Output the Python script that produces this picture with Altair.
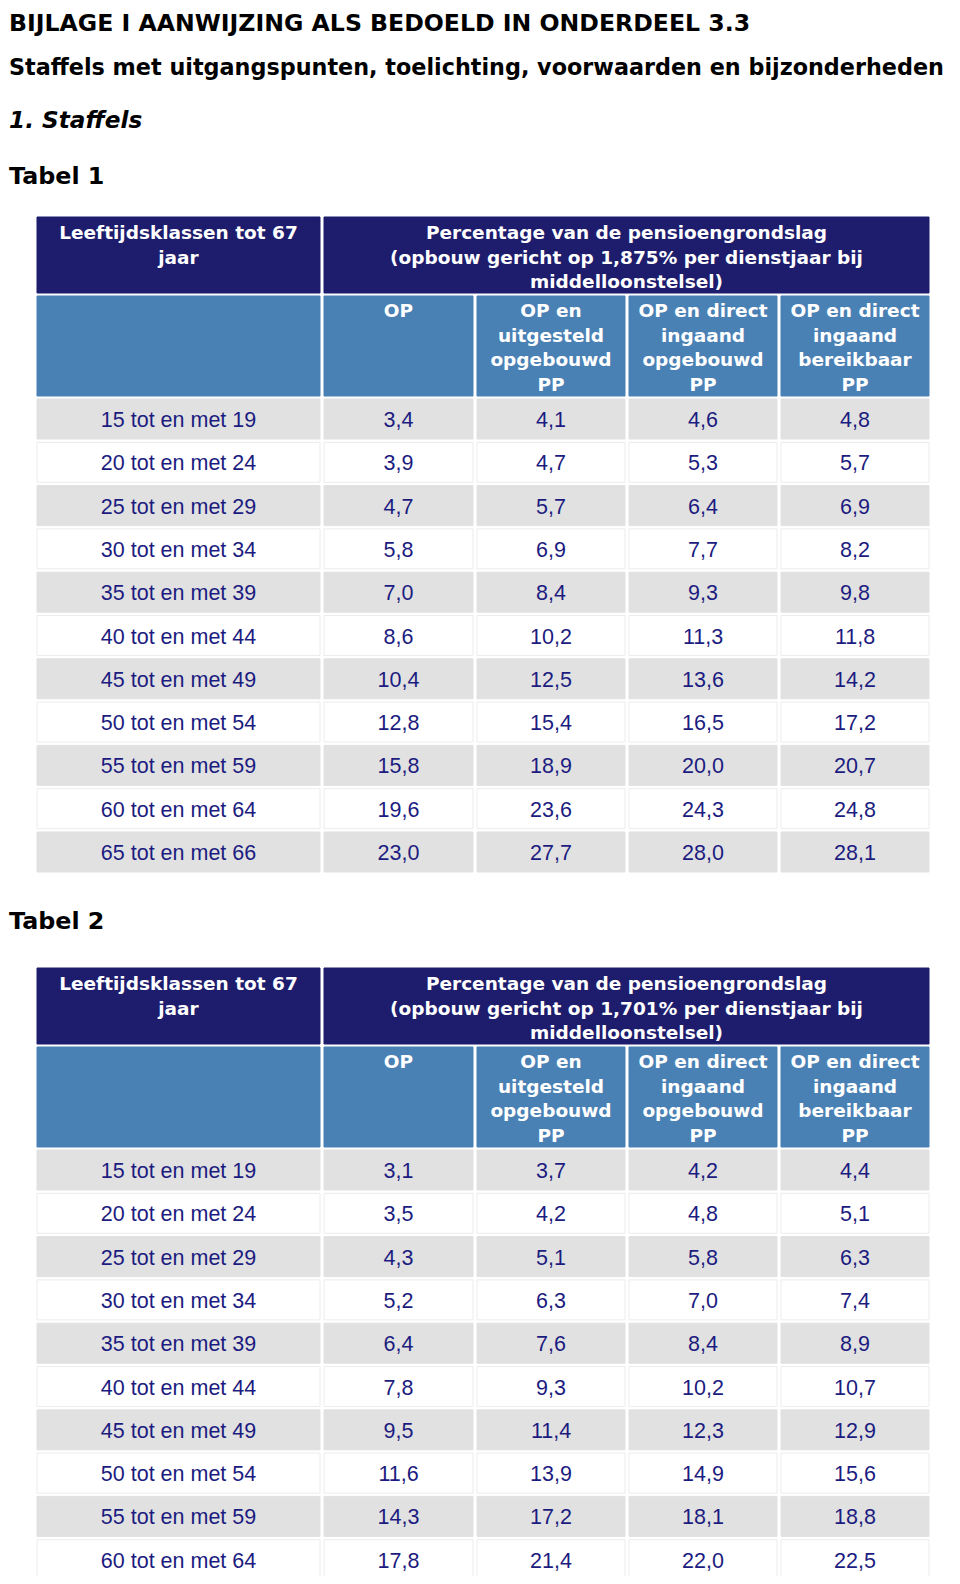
import altair as alt
import pandas as pd

# ---------------- data ----------------
title_lines = [
    "BIJLAGE I AANWIJZING ALS BEDOELD IN ONDERDEEL 3.3",
    "Staffels met uitgangspunten, toelichting, voorwaarden en bijzonderheden",
]
section_title = "1. Staffels"
table_titles = ["Tabel 1", "Tabel 2"]

age_header = "Leeftijdsklassen tot 67\njaar"
pct_headers = [
    "Percentage van de pensioengrondslag\n(opbouw gericht op 1,875% per dienstjaar bij\nmiddelloonstelsel)",
    "Percentage van de pensioengrondslag\n(opbouw gericht op 1,701% per dienstjaar bij\nmiddelloonstelsel)",
]
col_headers = [
    "OP",
    "OP en\nuitgesteld\nopgebouwd\nPP",
    "OP en direct\ningaand\nopgebouwd\nPP",
    "OP en direct\ningaand\nbereikbaar\nPP",
]

ages_1 = ["15 tot en met 19", "20 tot en met 24", "25 tot en met 29", "30 tot en met 34",
          "35 tot en met 39", "40 tot en met 44", "45 tot en met 49", "50 tot en met 54",
          "55 tot en met 59", "60 tot en met 64", "65 tot en met 66"]
op_1 = [3.4, 3.9, 4.7, 5.8, 7.0, 8.6, 10.4, 12.8, 15.8, 19.6, 23.0]
uitgesteld_1 = [4.1, 4.7, 5.7, 6.9, 8.4, 10.2, 12.5, 15.4, 18.9, 23.6, 27.7]
direct_opgebouwd_1 = [4.6, 5.3, 6.4, 7.7, 9.3, 11.3, 13.6, 16.5, 20.0, 24.3, 28.0]
direct_bereikbaar_1 = [4.8, 5.7, 6.9, 8.2, 9.8, 11.8, 14.2, 17.2, 20.7, 24.8, 28.1]

ages_2 = ages_1[:10]
op_2 = [3.1, 3.5, 4.3, 5.2, 6.4, 7.8, 9.5, 11.6, 14.3, 17.8]
uitgesteld_2 = [3.7, 4.2, 5.1, 6.3, 7.6, 9.3, 11.4, 13.9, 17.2, 21.4]
direct_opgebouwd_2 = [4.2, 4.8, 5.8, 7.0, 8.4, 10.2, 12.3, 14.9, 18.1, 22.0]
direct_bereikbaar_2 = [4.4, 5.1, 6.3, 7.4, 8.9, 10.7, 12.9, 15.6, 18.8, 22.5]

# ---------------- layout / style ----------------
OFF = 8
W, H = 944, 1568
COLS = [(37, 320), (324, 473), (477, 625), (629, 777), (781, 929)]
ROW_STEP = 43.3
ROW_H = 40
DARK = "#1d1c6d"
LIGHT = "#4a81b5"
GRAY = "#e1e1e1"
WHITE = "#ffffff"
NAVY = "#1c1c80"
TABLE_TOPS = [217, 968]
TABLE_TITLE_Y = [184, 929]


def fmt(v):
    return f"{v:.1f}".replace(".", ",")


rects, head_texts, data_texts = [], [], []


def add_table(top, pct_header, ages, series):
    # dark header row
    rects.append(dict(x=COLS[0][0], x2=COLS[0][1], y=top, y2=top + 76, fill=DARK, stroke=DARK))
    rects.append(dict(x=COLS[1][0], x2=COLS[4][1], y=top, y2=top + 76, fill=DARK, stroke=DARK))
    head_texts.append(dict(x=sum(COLS[0]) / 2, y=top + 22, text=age_header))
    head_texts.append(dict(x=(COLS[1][0] + COLS[4][1]) / 2, y=top + 22, text=pct_header))
    # light header row
    for j, c in enumerate(COLS):
        rects.append(dict(x=c[0], x2=c[1], y=top + 79, y2=top + 179, fill=LIGHT, stroke=LIGHT))
        if j > 0:
            head_texts.append(dict(x=sum(c) / 2, y=top + 100, text=col_headers[j - 1]))
    # data rows
    for i, age in enumerate(ages):
        y0 = top + 182 + i * ROW_STEP
        fill = GRAY if i % 2 == 0 else WHITE
        stroke = GRAY if i % 2 == 0 else "#ececec"
        for j, c in enumerate(COLS):
            rects.append(dict(x=c[0], x2=c[1], y=y0, y2=y0 + ROW_H, fill=fill, stroke=stroke))
            txt = age if j == 0 else fmt(series[j - 1][i])
            data_texts.append(dict(x=sum(c) / 2, y=y0 + ROW_H / 2 + 2, text=txt))


add_table(TABLE_TOPS[0], pct_headers[0], ages_1,
          [op_1, uitgesteld_1, direct_opgebouwd_1, direct_bereikbaar_1])
add_table(TABLE_TOPS[1], pct_headers[1], ages_2,
          [op_2, uitgesteld_2, direct_opgebouwd_2, direct_bereikbaar_2])

bold_titles = [
    dict(x=9, y=31, text=title_lines[0], size=23.6),
    dict(x=9, y=75, text=title_lines[1], size=22.3),
    dict(x=9, y=TABLE_TITLE_Y[0], text=table_titles[0], size=23.8),
    dict(x=9, y=TABLE_TITLE_Y[1], text=table_titles[1], size=23.8),
]
italic_titles = [dict(x=9, y=128, text=section_title, size=23.2)]

xs = alt.Scale(domain=[OFF, OFF + W], nice=False, zero=False)
ys = alt.Scale(domain=[OFF, OFF + H], nice=False, zero=False, reverse=True)
X = alt.X("x:Q", scale=xs, axis=None)
Y = alt.Y("y:Q", scale=ys, axis=None)

rect_layer = alt.Chart(pd.DataFrame(rects)).mark_rect(strokeWidth=1).encode(
    x=X, x2="x2:Q", y=Y, y2="y2:Q",
    fill=alt.Fill("fill:N", scale=None),
    stroke=alt.Stroke("stroke:N", scale=None),
)

head_layer = alt.Chart(pd.DataFrame(head_texts)).mark_text(
    font="DejaVu Sans", fontWeight="bold", fontSize=18.5, color="white",
    align="center", baseline="alphabetic", lineBreak="\n", lineHeight=24.5,
).encode(x=X, y=Y, text="text:N")

data_layer = alt.Chart(pd.DataFrame(data_texts)).mark_text(
    font="Liberation Sans", fontSize=21.5, color=NAVY,
    align="center", baseline="middle",
).encode(x=X, y=Y, text="text:N")

bold_layer = alt.Chart(pd.DataFrame(bold_titles)).mark_text(
    font="DejaVu Sans", fontWeight="bold", color="black",
    align="left", baseline="alphabetic",
).encode(x=X, y=Y, text="text:N", size=alt.Size("size:Q", scale=None))

italic_layer = alt.Chart(pd.DataFrame(italic_titles)).mark_text(
    font="DejaVu Sans", fontWeight="bold", fontStyle="italic", color="black",
    align="left", baseline="alphabetic",
).encode(x=X, y=Y, text="text:N", size=alt.Size("size:Q", scale=None))

chart = alt.layer(rect_layer, head_layer, data_layer, bold_layer, italic_layer).properties(
    width=W, height=H, padding=0,
    autosize=alt.AutoSizeParams(type="none"),
).configure_view(stroke=None, strokeWidth=0, fill=None)

chart.save("out.html", embed_options={"renderer": "svg", "actions": False})
